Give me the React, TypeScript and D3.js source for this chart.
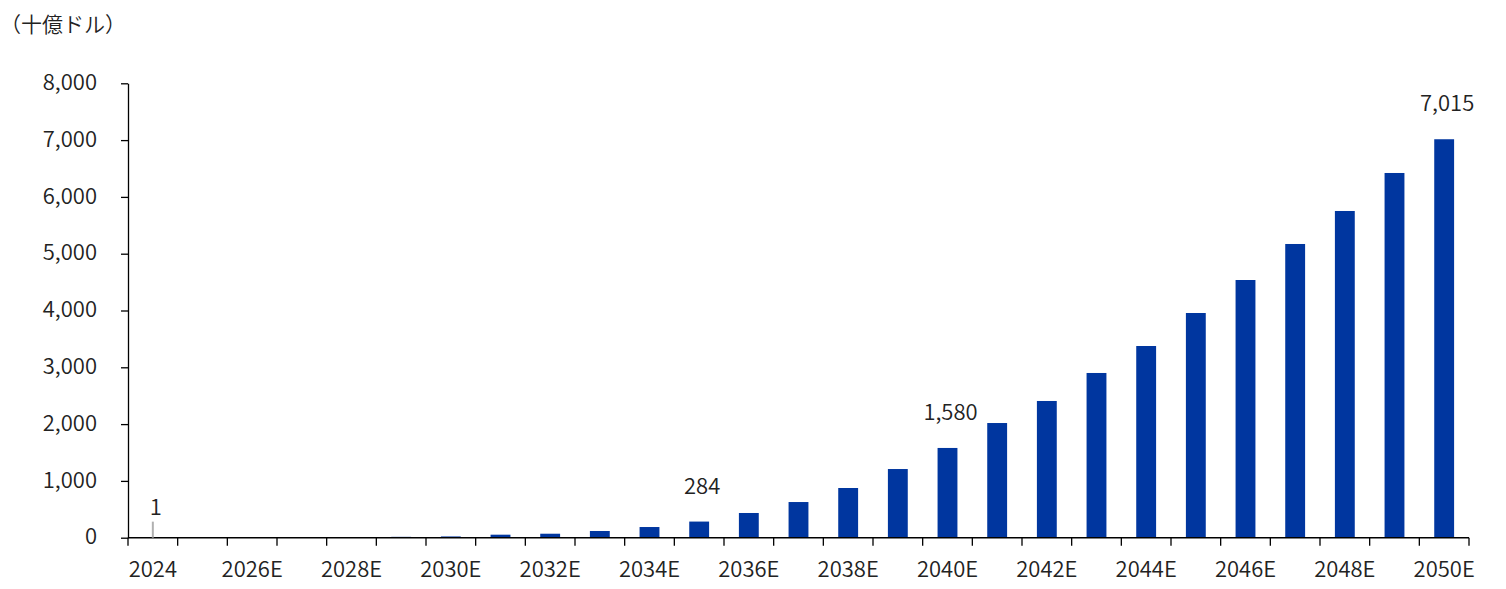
import * as d3 from 'd3'
import React, { useRef, useEffect } from 'react'

const years = [
  '2024', '2025E', '2026E', '2027E', '2028E', '2029E', '2030E', '2031E', '2032E',
  '2033E', '2034E', '2035E', '2036E', '2037E', '2038E', '2039E', '2040E', '2041E',
  '2042E', '2043E', '2044E', '2045E', '2046E', '2047E', '2048E', '2049E', '2050E',
]
const marketSize = [
  1, 2, 3, 5, 9, 15, 22, 53, 70, 118, 188, 284, 435, 628, 875, 1209, 1580, 2019,
  2407, 2900, 3375, 3956, 4537, 5171, 5752, 6421, 7015,
]
const yTicks = [0, 1000, 2000, 3000, 4000, 5000, 6000, 7000, 8000]
// years whose value is written above the bar
const labelled = ['2024', '2035E', '2040E', '2050E']
const unitLabel = '（十億ドル）'

const FONT = '"Noto Sans CJK JP", "Noto Sans", sans-serif'
const WEIGHT = 350

const App = () => {
  const ref = useRef(null)

  useEffect(() => {
    draw()
  }, [])

  const draw = () => {
    const totalWidth = 1506
    const totalHeight = 589
    const left = 128
    const right = 1469
    const top = 83.3
    const bottom = 537.7

    const svg = d3.select(ref.current)
    svg.selectAll('*').remove()
    svg.attr('width', totalWidth).attr('height', totalHeight)

    const xScale = d3
      .scaleBand()
      .domain(years)
      .range([left, right])
      .paddingInner(0.6)
      .paddingOuter(0.3)
    const step = xScale.step()

    const yScale = d3.scaleLinear().domain([0, 8000]).range([bottom, top])

    // unit label
    svg
      .append('text')
      .attr('x', 0)
      .attr('y', 32)
      .attr('fill', '#222')
      .style('font-family', FONT)
      .style('font-weight', WEIGHT)
      .style('font-size', '21px')
      .text(unitLabel)

    // bars
    svg
      .append('g')
      .selectAll('rect')
      .data(marketSize)
      .enter()
      .append('rect')
      .attr('x', (d, i) => xScale(years[i]) as number)
      .attr('y', (d) => yScale(d))
      .attr('width', xScale.bandwidth())
      .attr('height', (d) => bottom - yScale(d))
      .attr('fill', '#00369F')

    // y axis
    const yAxis = d3
      .axisLeft(yScale)
      .tickValues(yTicks)
      .tickSize(7)
      .tickSizeOuter(0)
      .tickPadding(24)
      .tickFormat((d: any) => d3.format(',')(d))

    const gy = svg.append('g').attr('transform', `translate(${left},0)`).call(yAxis)
    gy.select('.domain').attr('stroke', '#000').attr('stroke-width', 1.3)
    gy.selectAll('.tick line').attr('stroke', '#000').attr('stroke-width', 1.3)
    gy.selectAll('.tick text')
      .attr('fill', '#222')
      .attr('dy', '0.28em')
      .style('font-family', FONT)
      .style('font-weight', WEIGHT)
      .style('font-size', '22px')

    // x axis: line, ticks at category edges, every other label
    const gx = svg.append('g')
    gx.append('line')
      .attr('x1', left)
      .attr('x2', right)
      .attr('y1', bottom)
      .attr('y2', bottom)
      .attr('stroke', '#000')
      .attr('stroke-width', 1.5)
    gx.selectAll('.xtick')
      .data(d3.range(years.length + 1))
      .enter()
      .append('line')
      .attr('class', 'xtick')
      .attr('x1', (i) => left + i * step)
      .attr('x2', (i) => left + i * step)
      .attr('y1', bottom)
      .attr('y2', bottom + 8)
      .attr('stroke', '#000')
      .attr('stroke-width', 1.3)
    gx.selectAll('.xlabel')
      .data(years.filter((d, i) => i % 2 === 0))
      .enter()
      .append('text')
      .attr('class', 'xlabel')
      .attr('x', (d) => (xScale(d) as number) + xScale.bandwidth() / 2)
      .attr('y', 577)
      .attr('text-anchor', 'middle')
      .attr('fill', '#222')
      .style('font-family', FONT)
      .style('font-weight', WEIGHT)
      .style('font-size', '22px')
      .text((d) => d)

    // value labels
    const labels = svg.append('g')
    labelled.forEach((yr, k) => {
      const i = years.indexOf(yr)
      const v = marketSize[i]
      const cx = (xScale(yr) as number) + xScale.bandwidth() / 2
      let ty = yScale(v) - 28
      if (k === 0) {
        // leader line for the tiny first bar
        labels
          .append('line')
          .attr('x1', cx)
          .attr('x2', cx)
          .attr('y1', yScale(v))
          .attr('y2', yScale(v) - 16)
          .attr('stroke', '#b0b0b0')
          .attr('stroke-width', 2)
        ty = yScale(v) - 23
      }
      labels
        .append('text')
        .attr('x', cx + 3)
        .attr('y', ty)
        .attr('text-anchor', 'middle')
        .attr('fill', '#222')
        .style('font-family', FONT)
        .style('font-weight', WEIGHT)
        .style('font-size', '22px')
        .text(d3.format(',')(v))
    })
  }

  return (
    <div style={{ position: 'absolute', left: 0, top: 0 }}>
      <svg ref={ref} style={{ display: 'block' }} />
    </div>
  )
}

export default App
